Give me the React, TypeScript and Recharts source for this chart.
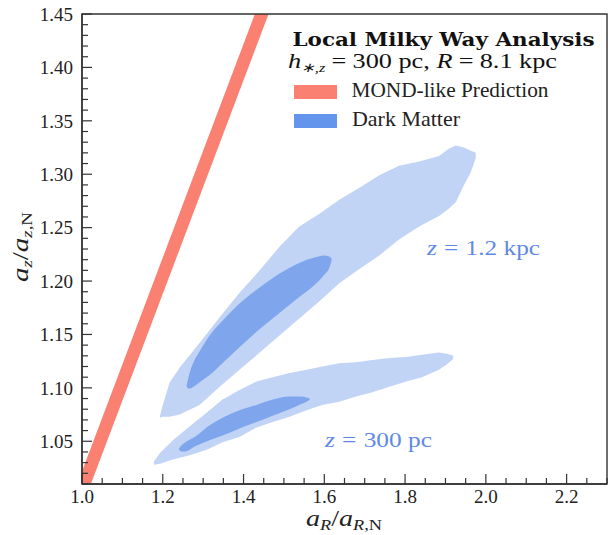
import { ComposedChart, Area, XAxis, YAxis, ReferenceArea } from 'recharts';

// MOND-like prediction band (a_z/a_z,N vs a_R/a_R,N)
const bandX = [1.0, 1.5];
const bandLo = [0.988, 1.488];
const bandHi = [1.022, 1.522];

// dark matter contours, z = 1.2 kpc
const kpcOuterX = [1.193, 1.2, 1.217, 1.242, 1.291, 1.341, 1.39, 1.44, 1.489, 1.538, 1.588, 1.637, 1.686, 1.736, 1.785, 1.835, 1.884, 1.909, 1.926, 1.946, 1.963, 1.975];
const kpcOuterLo = [1.072, 1.073, 1.073, 1.075, 1.084, 1.101, 1.117, 1.133, 1.149, 1.165, 1.181, 1.198, 1.211, 1.224, 1.239, 1.251, 1.261, 1.268, 1.274, 1.29, 1.302, 1.315];
const kpcOuterHi = [1.074, 1.084, 1.105, 1.119, 1.142, 1.166, 1.189, 1.21, 1.232, 1.251, 1.263, 1.276, 1.287, 1.299, 1.308, 1.312, 1.317, 1.324, 1.327, 1.325, 1.322, 1.32];

const kpcInnerX = [1.259, 1.263, 1.268, 1.276, 1.291, 1.316, 1.353, 1.39, 1.44, 1.489, 1.538, 1.575, 1.6, 1.612, 1.618];
const kpcInnerLo = [1.101, 1.0995, 1.0995, 1.101, 1.105, 1.112, 1.125, 1.138, 1.155, 1.17, 1.185, 1.196, 1.206, 1.212, 1.219];
const kpcInnerHi = [1.102, 1.109, 1.116, 1.124, 1.134, 1.149, 1.165, 1.179, 1.194, 1.207, 1.217, 1.222, 1.224, 1.223, 1.221];

// dark matter contours, z = 300 pc
const pcOuterX = [1.178, 1.193, 1.225, 1.267, 1.309, 1.348, 1.39, 1.432, 1.472, 1.514, 1.556, 1.595, 1.637, 1.679, 1.719, 1.761, 1.803, 1.842, 1.884, 1.904, 1.919];
const pcOuterLo = [1.028, 1.029, 1.033, 1.037, 1.042, 1.049, 1.054, 1.063, 1.068, 1.073, 1.079, 1.084, 1.087, 1.092, 1.096, 1.101, 1.106, 1.11, 1.117, 1.122, 1.127];
const pcOuterHi = [1.031, 1.039, 1.051, 1.064, 1.077, 1.089, 1.098, 1.106, 1.11, 1.114, 1.117, 1.12, 1.123, 1.124, 1.126, 1.128, 1.129, 1.131, 1.133, 1.132, 1.13];

const pcInnerX = [1.24, 1.246, 1.256, 1.279, 1.316, 1.353, 1.39, 1.432, 1.472, 1.514, 1.543, 1.556, 1.564];
const pcInnerLo = [1.042, 1.0405, 1.0405, 1.045, 1.051, 1.056, 1.062, 1.068, 1.074, 1.08, 1.085, 1.087, 1.089];
const pcInnerHi = [1.043, 1.046, 1.049, 1.054, 1.065, 1.073, 1.079, 1.084, 1.089, 1.092, 1.092, 1.091, 1.09];

const xTickLabels = [1.0, 1.2, 1.4, 1.6, 1.8, 2.0, 2.2];
const yTickLabels = [1.05, 1.1, 1.15, 1.2, 1.25, 1.3, 1.35, 1.4, 1.45];

const X_DOMAIN = [1.0, 2.3];
const Y_DOMAIN = [1.01, 1.45];

const SALMON = '#fa8072';
const CORNFLOWER = '#6495ed';
const LIGHT = '#c2d4f5';
const DARK = '#7fa6ec';
const LABEL_BLUE = '#6189e6';
const AXIS = '#333';
const SERIF = "'Liberation Serif', 'Times New Roman', serif";

const toRange = (xs: number[], lo: number[], hi: number[]) =>
  xs.map((x, i) => ({ x, r: [lo[i], hi[i]] }));

// minor ticks: every 0.05 in x, every 0.01 in y
const xTicks: number[] = [];
for (let v = 100; v <= 230; v += 5) xTicks.push(v / 100);
const yTicks: number[] = [];
for (let v = 101; v <= 145; v += 1) yTicks.push(v / 100);

const isMajorX = (v: number) => xTickLabels.some((t) => Math.abs(t - v) < 1e-6);
const isMajorY = (v: number) => yTickLabels.some((t) => Math.abs(t - v) < 1e-6);

function XTick(props: any) {
  const { x, y, payload } = props;
  const v = payload.value;
  const major = isMajorX(v);
  const y0 = y - 6; // axis line
  return (
    <g>
      <line x1={x} x2={x} y1={y0} y2={y0 - (major ? 10 : 6)} stroke={AXIS} strokeWidth={1.2} />
      {major && (
        <text x={x} y={y} dy="0.71em" textAnchor="middle" fontFamily={SERIF} fontSize={19} fill="#222">
          {v.toFixed(1)}
        </text>
      )}
    </g>
  );
}

function YTick(props: any) {
  const { x, y, payload } = props;
  const v = payload.value;
  const major = isMajorY(v);
  const x0 = x + 9; // axis line
  return (
    <g>
      <line x1={x0} x2={x0 + (major ? 10 : 6)} y1={y} y2={y} stroke={AXIS} strokeWidth={1.2} />
      {major && (
        <text x={x} y={y} dy="0.355em" textAnchor="end" fontFamily={SERIF} fontSize={19} fill="#222">
          {v.toFixed(2)}
        </text>
      )}
    </g>
  );
}

const fit = { lengthAdjust: 'spacingAndGlyphs' as const };

export default function App() {
  return (
    <div style={{ position: 'absolute', left: 0, top: 0, width: 608, height: 535, background: '#fff' }}>
      <ComposedChart width={608} height={535} margin={{ top: 14, right: 1, bottom: 0, left: 0 }}>
        <XAxis
          type="number"
          dataKey="x"
          domain={X_DOMAIN}
          ticks={xTicks}
          interval={0}
          allowDataOverflow
          tickSize={0}
          tickMargin={6}
          height={51}
          stroke={AXIS}
          strokeWidth={1.4}
          tick={(p: any) => <XTick {...p} />}
        />
        <YAxis
          type="number"
          domain={Y_DOMAIN}
          ticks={yTicks}
          interval={0}
          allowDataOverflow
          tickSize={0}
          tickMargin={9}
          width={82}
          stroke={AXIS}
          strokeWidth={1.4}
          tick={(p: any) => <YTick {...p} />}
        />
        <Area data={toRange(bandX, bandLo, bandHi)} dataKey="r" type="linear" stroke="none" fill={SALMON} fillOpacity={1} isAnimationActive={false} activeDot={false} />
        <Area data={toRange(kpcOuterX, kpcOuterLo, kpcOuterHi)} dataKey="r" type="linear" stroke="none" fill={LIGHT} fillOpacity={1} isAnimationActive={false} activeDot={false} />
        <Area data={toRange(kpcInnerX, kpcInnerLo, kpcInnerHi)} dataKey="r" type="monotone" stroke="none" fill={DARK} fillOpacity={1} isAnimationActive={false} activeDot={false} />
        <Area data={toRange(pcOuterX, pcOuterLo, pcOuterHi)} dataKey="r" type="linear" stroke="none" fill={LIGHT} fillOpacity={1} isAnimationActive={false} activeDot={false} />
        <Area data={toRange(pcInnerX, pcInnerLo, pcInnerHi)} dataKey="r" type="monotone" stroke="none" fill={DARK} fillOpacity={1} isAnimationActive={false} activeDot={false} />
        <ReferenceArea x1={X_DOMAIN[0]} x2={X_DOMAIN[1]} y1={Y_DOMAIN[0]} y2={Y_DOMAIN[1]} fill="none" stroke={AXIS} strokeWidth={1.4} ifOverflow="visible" />
      </ComposedChart>

      <svg width={608} height={535} style={{ position: 'absolute', left: 0, top: 0, pointerEvents: 'none' }}>
        {/* legend */}
        <text x={292.5} y={46} fontFamily="'DejaVu Serif', serif" fontWeight="bold" fontSize={18.5} fill="#111" textLength={302} {...fit}>
          Local Milky Way Analysis
        </text>
        <text x={288} y={68} fontFamily={SERIF} fontSize={21} fill="#111" textLength={269} {...fit}>
          <tspan fontStyle="italic">h</tspan>
          <tspan fontSize={13} dy={4} fontStyle="italic">∗,z</tspan>
          <tspan dy={-4} dx={5}>=</tspan>
          <tspan dx={5}>300 pc, </tspan>
          <tspan fontStyle="italic">R</tspan>
          <tspan dx={5}>=</tspan>
          <tspan dx={5}>8.1 kpc</tspan>
        </text>
        <rect x={294} y={85} width={43} height={14} fill={SALMON} />
        <text x={351.5} y={97.3} fontFamily={SERIF} fontSize={21} fill="#222" textLength={197} {...fit}>
          MOND-like Prediction
        </text>
        <rect x={294} y={114} width={43} height={14} fill={CORNFLOWER} />
        <text x={352} y={126} fontFamily={SERIF} fontSize={21} fill="#222" textLength={108} {...fit}>
          Dark Matter
        </text>

        {/* contour annotations */}
        <text x={427} y={255} fontFamily={SERIF} fontSize={21} fill={LABEL_BLUE} textLength={113} {...fit}>
          <tspan fontStyle="italic">z</tspan>
          <tspan dx={6}>=</tspan>
          <tspan dx={6}>1.2 kpc</tspan>
        </text>
        <text x={325} y={447} fontFamily={SERIF} fontSize={21} fill={LABEL_BLUE} textLength={107} {...fit}>
          <tspan fontStyle="italic">z</tspan>
          <tspan dx={6}>=</tspan>
          <tspan dx={6}>300 pc</tspan>
        </text>

        {/* axis titles */}
        <text x={344} y={526} textAnchor="middle" fontFamily={SERIF} fontSize={23} fill="#222" textLength={76} {...fit}>
          <tspan fontStyle="italic">a</tspan>
          <tspan fontSize={15} dy={4} fontStyle="italic">R</tspan>
          <tspan dy={-4}>/</tspan>
          <tspan fontStyle="italic">a</tspan>
          <tspan fontSize={15} dy={4} fontStyle="italic">R</tspan>
          <tspan fontSize={15}>,N</tspan>
        </text>
        <text transform="translate(28, 247) rotate(-90)" x={0} y={0} textAnchor="middle" fontFamily={SERIF} fontSize={23} fill="#222" textLength={70} {...fit}>
          <tspan fontStyle="italic">a</tspan>
          <tspan fontSize={15} dy={4} fontStyle="italic">z</tspan>
          <tspan dy={-4}>/</tspan>
          <tspan fontStyle="italic">a</tspan>
          <tspan fontSize={15} dy={4} fontStyle="italic">z</tspan>
          <tspan fontSize={15}>,N</tspan>
        </text>
      </svg>
    </div>
  );
}
